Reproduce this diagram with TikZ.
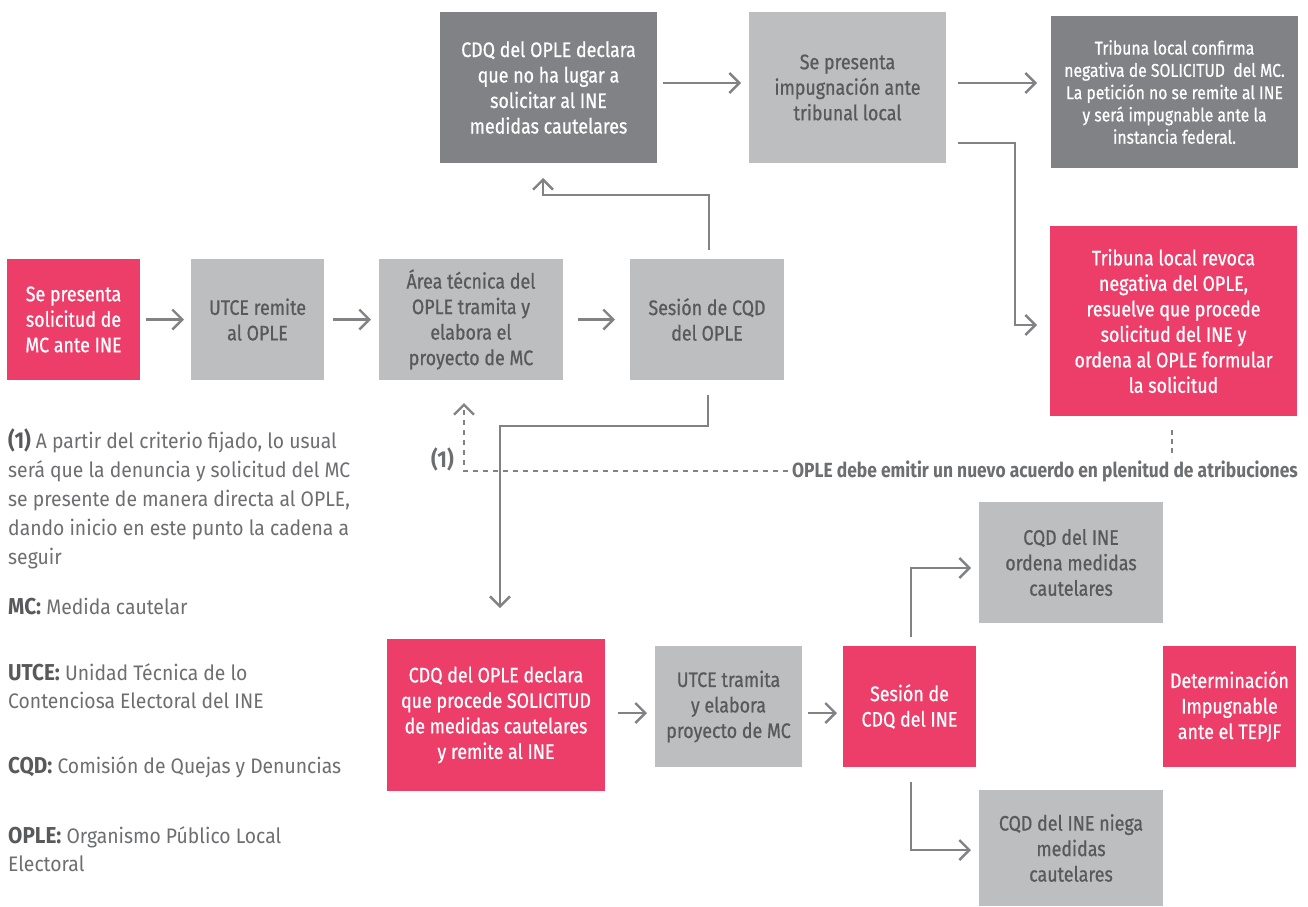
\documentclass[tikz,border=0pt]{standalone}
\usepackage{fontspec}
\newfontfamily\ff{Fira Sans}[FakeStretch=0.85]
\newfontfamily\fb{Fira Sans}[FakeStretch=0.85,FakeBold=0.7]
\newfontfamily\fl{Fira Sans}[FakeStretch=0.92]
\newfontfamily\fk{Fira Sans}[FakeStretch=0.9]
\usetikzlibrary{arrows.meta,calc}
\definecolor{pk}{HTML}{ED3E6A}
\definecolor{lg}{HTML}{BCBEC0}
\definecolor{dg}{HTML}{808285}
\definecolor{tx}{HTML}{58595B}
\definecolor{ln}{HTML}{808285}
\definecolor{lt}{HTML}{6D6E71}
\newcommand{\lbl}[1]{{\fk\bfseries\fontsize{23}{28}\selectfont\color{tx}#1}}
\begin{document}
\begin{tikzpicture}[x=1pt,y=-1pt,
 box/.style={inner sep=0pt,outer sep=0pt,align=center,anchor=north west,font=\fb\fontsize{21}{25.5}\selectfont},
 pinkbox/.style={box,fill=pk,text=white},
 graybox/.style={box,fill=lg,text=tx},
 darkbox/.style={box,fill=dg,text=white},
 conn/.style={draw=ln,line width=2.4pt,-{Straight Barb[length=10pt,width=20pt]}},
 dashconn/.style={conn,dash pattern=on 5pt off 5pt},
 dotline/.style={draw=ln,line width=2.4pt,dash pattern=on 5pt off 4pt},
 leg/.style={anchor=base west,inner sep=0pt,text=lt,font=\fl\fontsize{21}{28}\selectfont},
 lab/.style={inner sep=0pt,text=lt,font=\ff\bfseries\fontsize{20.5}{24}\selectfont}
]
\useasboundingbox[fill=white] (0,0) rectangle (1308,906);

% top row
\node[pinkbox,minimum width=133,minimum height=121] (b1) at (7,259) {Se presenta\\solicitud de\\MC ante INE};
\node[graybox,minimum width=133,minimum height=121] (b2) at (191,259) {UTCE remite\\al OPLE};
\node[graybox,minimum width=184,minimum height=121] (b3) at (379,259) {Área técnica del\\OPLE tramita y\\elabora el\\proyecto de MC};
\node[graybox,minimum width=154,minimum height=121] (b4) at (630,259) {Sesión de CQD\\del OPLE};
\node[darkbox,minimum width=217,minimum height=151] (b5) at (440,12) {CDQ del OPLE declara\\que no ha lugar a\\solicitar al INE\\medidas cautelares};
\node[graybox,minimum width=197,minimum height=151] (b6) at (749,12) {Se presenta\\impugnación ante\\tribunal local};
\node[darkbox,minimum width=247,minimum height=152,font=\fb\fontsize{18.5}{22.3}\selectfont] (b7) at (1051,16) {Tribuna local confirma\\negativa de SOLICITUD\ \ del MC.\\La petición no se remite al INE\\y será impugnable ante la\\instancia federal.};
\node[pinkbox,minimum width=247,minimum height=190] (b8) at (1050,226) {Tribuna local revoca\\negativa del OPLE,\\resuelve que procede\\solicitud del INE y\\ordena al OPLE formular\\la solicitud};

% bottom row
\node[pinkbox,minimum width=218,minimum height=152] (b9) at (387,639) {CDQ del OPLE declara\\que procede SOLICITUD\\de medidas cautelares\\y remite al INE};
\node[graybox,minimum width=147,minimum height=121] (b10) at (655,646) {UTCE tramita\\y elabora\\proyecto de MC};
\node[pinkbox,minimum width=133,minimum height=121] (b11) at (843,646) {Sesión de\\CDQ del INE};
\node[graybox,minimum width=184,minimum height=121] (b12) at (979,502) {CQD del INE\\ordena medidas\\cautelares};
\node[pinkbox,minimum width=133,minimum height=121] (b13) at (1163,646) {Determinación\\Impugnable\\ante el TEPJF};
\node[graybox,minimum width=184,minimum height=116] (b14) at (979,790) {CQD del INE niega\\medidas\\cautelares};

% labels
\node[lab,anchor=east] (note) at (1298,471) {OPLE debe emitir un nuevo acuerdo en plenitud de atribuciones};
\node[lab,anchor=base east,font=\fk\bfseries\fontsize{23}{24}\selectfont] (one) at (454,467) {(1)};

% connectors
\draw[conn] ($(b1.east)+(6,0)$) -- ($(b2.west)+(-7,0)$);
\draw[conn] ($(b2.east)+(9,0)$) -- ($(b3.west)+(-8,0)$);
\draw[conn] ($(b3.east)+(15,0)$) -- ($(b4.west)+(-15,0)$);
\draw[conn] ($(b4.north)+(2,-9)$) |- ($(b5.south)+(-5.5,32)$) -- ($(b5.south)+(-5.5,15)$);
\draw[conn] ($(b5.east)+(6,-4.5)$) -- ($(b6.west)+(-8,-4.5)$);
\draw[conn] ($(b6.east)+(12,-4.5)$) -- ($(b7.west)+(-14,-9)$);
\draw[conn] ($(b6.east)+(12,55.5)$) -| ($(b8.west)+(-35,4)$) -- ($(b8.west)+(-13,4)$);
\draw[dotline] ($(b8.south)+(-1.5,14)$) -- ($(b8.south)+(-1.5,41)$);
\draw[dashconn] ($(note.west)+(-4,0)$) -| ($(b3.south)+(-7,23)$);
\draw[conn] ($(b4.south)+(1,15)$) -- ($(b4.south)+(1,46)$) -| ($(b9.north)+(4,-31)$);
\draw[conn] ($(b9.east)+(13,-2)$) -- ($(b9.east -| b10.west)+(-8,-2)$);
\draw[conn] ($(b10.east)+(6,6.5)$) -- ($(b11.west)+(-6,6.5)$);
\draw[conn] ($(b11.north)+(1.5,-9)$) |- ($(b12.west)+(-8,5.5)$);
\draw[conn] ($(b11.south)+(1.5,15)$) |- ($(b14.west)+(-8,2)$);

% legend
\node[leg] (l1) at (8,448) {\lbl{(1)} A partir del criterio fijado, lo usual};
\node[leg] (l2) at (8,477) {será que la denuncia y solicitud del MC};
\node[leg] (l3) at (8,506) {se presente de manera directa al OPLE,};
\node[leg] (l4) at (8,535) {dando inicio en este punto la cadena a};
\node[leg] (l5) at (8,564) {seguir};
\node[leg] (m1) at (8,614) {\lbl{MC:} Medida cautelar};
\node[leg] (m2) at (8,680) {\lbl{UTCE:} Unidad Técnica de lo};
\node[leg] (m3) at (8,708) {Contenciosa Electoral del INE};
\node[leg] (m4) at (8,773) {\lbl{CQD:} Comisión de Quejas y Denuncias};
\node[leg] (m5) at (8,843) {\lbl{OPLE:} Organismo Público Local};
\node[leg] (m6) at (8,871) {Electoral};
\end{tikzpicture}
\end{document}
